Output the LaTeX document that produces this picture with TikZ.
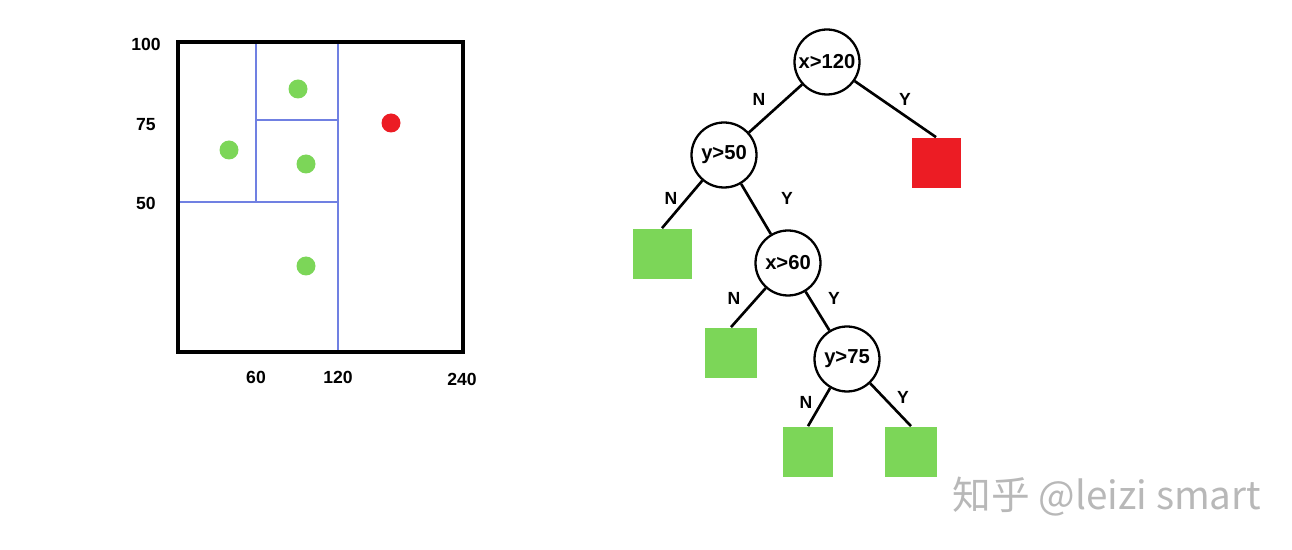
\documentclass[tikz,border=0pt]{standalone}
\usepackage{fontspec}
\setmainfont{Liberation Sans}
\newfontfamily\cjk{Noto Sans CJK SC}
\usepackage{xcolor}
\usetikzlibrary{positioning}
\definecolor{LeafGreen}{RGB}{124,214,88}
\definecolor{LeafRed}{RGB}{236,28,36}
\definecolor{CutBlue}{RGB}{112,128,226}

\begin{document}
\begin{tikzpicture}[x=0.02cm,y=-0.02cm,
  split/.style={circle,draw,line width=1.3pt,minimum size=1.3cm,inner sep=0pt,
     font=\bfseries\fontsize{11.5}{13}\selectfont},
  leaf/.style={rectangle,fill=LeafGreen,minimum width=1.04cm,minimum height=1.02cm,inner sep=0pt},
  bad/.style={leaf,fill=LeafRed,minimum width=0.98cm},
  edge/.style={line width=1.5pt},
  lab/.style={font=\bfseries\fontsize{10}{12}\selectfont},
  cut/.style={draw=CutBlue,line width=1.3pt},
  dot/.style={circle,fill=LeafGreen,minimum size=0.38cm,inner sep=0pt}]
\useasboundingbox (0,0) rectangle (1292,550);
% feature space
\draw[cut] (256,42)--(256,202);
\draw[cut] (338,42)--(338,352);
\draw[cut] (178,202)--(338,202);
\draw[cut] (256,120)--(338,120);
\draw[line width=2pt] (178,42) rectangle (463,352);
\node[lab] (t100) at (146,44) {100};
\node[lab] (t75) at (146,125) {75};
\node[lab] (t50) at (146,203) {50};
\node[lab] (t60) at (256,377) {60};
\node[lab] (t120) at (338,377) {120};
\node[lab] (t240) at (462,379) {240};
\node[dot] (p1) at (298,89) {};
\node[dot] (p2) at (229,150) {};
\node[dot] (p3) at (306,164) {};
\node[dot] (p4) at (306,266) {};
\node[dot,fill=LeafRed] (p5) at (391,123) {};
% decision tree
\node[split] (sx120) at (827,62) {x>120};
\node[split] (sy50) at (724,155) {y>50};
\node[split] (sx60) at (788,263) {x>60};
\node[split] (sy75) at (847,359) {y>75};
\node[bad] (lred) at (936,163) {};
\node[leaf,minimum width=1.18cm] (lg1) at (662,254) {};
\node[leaf] (lg2) at (731,353) {};
\node[leaf,minimum width=1.0cm] (lg3) at (808,452) {};
\node[leaf] (lg4) at (911,452) {};
\draw[edge] (sx120)--(sy50); \draw[edge] (sx120)--(lred.north);
\draw[edge] (sy50)--(lg1.north); \draw[edge] (sy50)--(sx60);
\draw[edge] (sx60)--(lg2.north); \draw[edge] (sx60)--(sy75);
\draw[edge] (sy75)--(lg3.north); \draw[edge] (sy75)--(lg4.north);
\node[lab] (n1) at (759,99) {N}; \node[lab] (y1) at (905,99) {Y};
\node[lab] (n2) at (671,198) {N}; \node[lab] (y2) at (787,198) {Y};
\node[lab] (n3) at (734,298) {N}; \node[lab] (y3) at (834,298) {Y};
\node[lab] (n4) at (806,402) {N}; \node[lab] (y4) at (903,397) {Y};
\node[font=\cjk\fontsize{22}{25}\selectfont,text=black!28] (mark) at (1107,497) {知乎 @leizi smart};
\end{tikzpicture}
\end{document}
